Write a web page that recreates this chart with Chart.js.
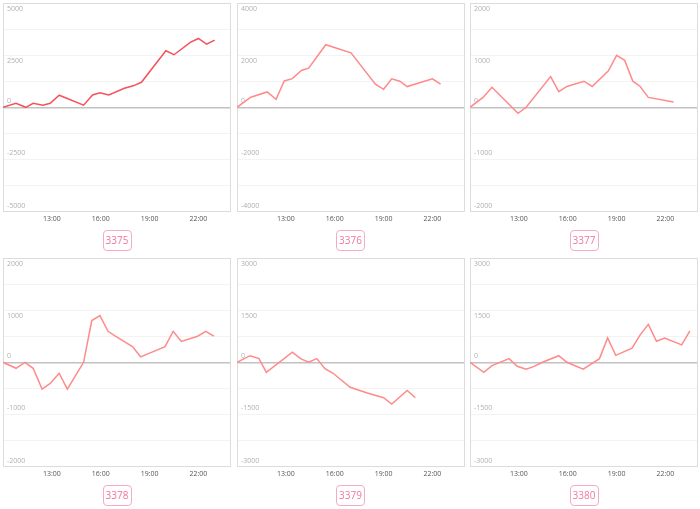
<!DOCTYPE html>
<html>
<head>
<meta charset="utf-8">
<script src="https://cdn.jsdelivr.net/npm/chart.js@4/dist/chart.umd.min.js"></script>
<style>
  html, body { margin: 0; padding: 0; background: #fff; }
  #wrap { position: relative; width: 700px; height: 509px; overflow: hidden; font-family: 'Open Sans', sans-serif; }
  .cell { position: absolute; width: 237px; height: 224px; }
  .tag {
    position: absolute; width: 29px; height: 21px; box-sizing: border-box;
    border: 1.5px solid #f6abc4; border-radius: 4px; color: #ee78a0;
    font-size: 10px; line-height: 18px; text-align: center;
  }
</style>
</head>
<body>
<div id="wrap"></div>
<script>
// nomi dei pannelli e limiti dell'asse y
const panelNames = ['3375', '3376', '3377', '3378', '3379', '3380'];
const yLimits = [5000, 4000, 2000, 2000, 3000, 3000];
const xTickHours = [13, 16, 19, 22];

// ore (decimali) e valori di ogni serie
const hours3375 = [10, 10.8, 11.4, 11.85, 12.45, 12.9, 13.45, 14.95, 15.5, 15.95, 16.5, 17.45, 18.0, 18.5, 20.0, 20.5, 21.5, 22.0, 22.5, 23.0];
const values3375 = [0, 190, 0, 190, 100, 190, 580, 100, 590, 700, 590, 910, 1030, 1200, 2710, 2520, 3110, 3300, 3030, 3220];

const hours3376 = [10, 10.85, 11.85, 12.4, 12.9, 13.4, 13.95, 14.4, 15.45, 17.0, 18.5, 19.0, 19.5, 20.0, 20.45, 22.0, 22.5];
const values3376 = [0, 385, 590, 310, 1010, 1100, 1410, 1500, 2400, 2090, 885, 690, 1090, 1000, 795, 1090, 885];

const hours3377 = [10, 10.8, 11.35, 12.95, 13.45, 14.95, 15.45, 15.95, 17.0, 17.5, 18.5, 19.0, 19.5, 20.0, 20.45, 20.95, 22.5];
const values3377 = [0, 190, 385, -115, 0, 590, 300, 400, 500, 400, 700, 995, 900, 500, 400, 190, 100];

const hours3378 = [10, 10.8, 11.35, 11.85, 12.4, 12.9, 13.45, 13.95, 14.95, 15.45, 15.95, 16.45, 16.9, 17.95, 18.45, 19.95, 20.45, 20.95, 21.95, 22.45, 22.95];
const values3378 = [0, -115, 0, -115, -515, -405, -210, -515, 0, 800, 895, 595, 500, 300, 105, 300, 595, 400, 500, 595, 500];

const hours3379 = [10, 10.8, 11.35, 11.8, 13.4, 13.9, 14.4, 14.9, 15.4, 15.9, 16.95, 17.95, 19.0, 19.5, 20.45, 20.95];
const values3379 = [0, 190, 105, -290, 290, 105, 0, 105, -185, -315, -720, -875, -1020, -1200, -810, -1020];

const hours3380 = [10, 10.85, 11.35, 12.4, 12.9, 13.45, 13.9, 14.45, 15.45, 15.95, 16.95, 17.95, 18.45, 18.95, 19.95, 20.45, 20.95, 21.45, 21.95, 23.0, 23.5];
const values3380 = [0, -290, -95, 105, -115, -200, -125, 0, 190, 0, -200, 105, 700, 200, 405, 790, 1090, 605, 700, 500, 905];

const allHours = [hours3375, hours3376, hours3377, hours3378, hours3379, hours3380];
const allValues = [values3375, values3376, values3377, values3378, values3379, values3380];
const lineColors = ['#f4535c', '#ff8a8a', '#ff8a8a', '#ff8a8a', '#ff8a8a', '#ff8a8a'];

// cornice grigia attorno all'area del grafico
const framePlugin = {
    id: 'frame',
    beforeDatasetsDraw(chart) {
        const a = chart.chartArea;
        const c = chart.ctx;
        c.save();
        c.strokeStyle = '#dcdcdc';
        c.lineWidth = 1;
        c.strokeRect(Math.round(a.left) + 0.5, Math.round(a.top) + 0.5, Math.round(a.right - a.left) - 1, Math.round(a.bottom - a.top) - 1);
        c.restore();
    }
};

const wrap = document.getElementById('wrap');

panelNames.forEach((name, i) => {
    const col = i % 3;
    const row = Math.floor(i / 3);
    const boxLeft = 3 + col * 233.5;
    const boxTop = 3 + row * 255;

    const cell = document.createElement('div');
    cell.className = 'cell';
    cell.style.left = (boxLeft - 8) + 'px';
    cell.style.top = (boxTop - 1) + 'px';
    const canvas = document.createElement('canvas');
    cell.appendChild(canvas);
    wrap.appendChild(cell);

    const tag = document.createElement('div');
    tag.className = 'tag';
    tag.textContent = name;
    tag.style.left = (boxLeft + 114 - 14.5) + 'px';
    tag.style.top = (row * 255 + 230) + 'px';
    wrap.appendChild(tag);

    const lim = yLimits[i];
    const points = allHours[i].map((h, k) => ({ x: h, y: allValues[i][k] }));

    new Chart(canvas, {
        type: 'line',
        data: {
            datasets: [{
                data: points,
                borderColor: lineColors[i],
                borderWidth: 1.5,
                pointRadius: 0,
                tension: 0,
                fill: false
            }]
        },
        options: {
            responsive: true,
            maintainAspectRatio: false,
            animation: false,
            layout: { padding: { top: 1, right: 1, left: 0, bottom: 0 } },
            plugins: { legend: { display: false }, tooltip: { enabled: false } },
            scales: {
                x: {
                    type: 'linear',
                    min: 10,
                    max: 24,
                    afterBuildTicks: scale => { scale.ticks = xTickHours.map(v => ({ value: v })); },
                    grid: { display: false, drawTicks: false },
                    border: { display: false },
                    ticks: {
                        padding: 3,
                        color: '#555',
                        font: { family: 'Open Sans', size: 7 },
                        maxRotation: 0,
                        autoSkip: false,
                        callback: v => v + ':00'
                    }
                },
                y: {
                    min: -lim,
                    max: lim,
                    afterFit: scale => { scale.paddingTop = 0; scale.paddingBottom = 0; },
                    grid: {
                        drawTicks: false,
                        color: c => c.tick && c.tick.value === 0 ? '#c2c2c2' : '#f3f3f3',
                        lineWidth: c => c.tick && c.tick.value === 0 ? 1.5 : 1
                    },
                    border: { display: false },
                    ticks: {
                        mirror: true,
                        padding: 4,
                        autoSkip: false,
                        stepSize: lim / 4,
                        color: '#b0b0b0',
                        font: { family: 'Open Sans', size: 7, lineHeight: '12px' },
                        // etichette sopra o sotto la linea della griglia
                        callback: (value, index) => {
                            if (index % 2 !== 0) return '';
                            return value > 0 ? ['', String(value)] : [String(value), ''];
                        }
                    }
                }
            }
        },
        plugins: [framePlugin]
    });
});
</script>
</body>
</html>
